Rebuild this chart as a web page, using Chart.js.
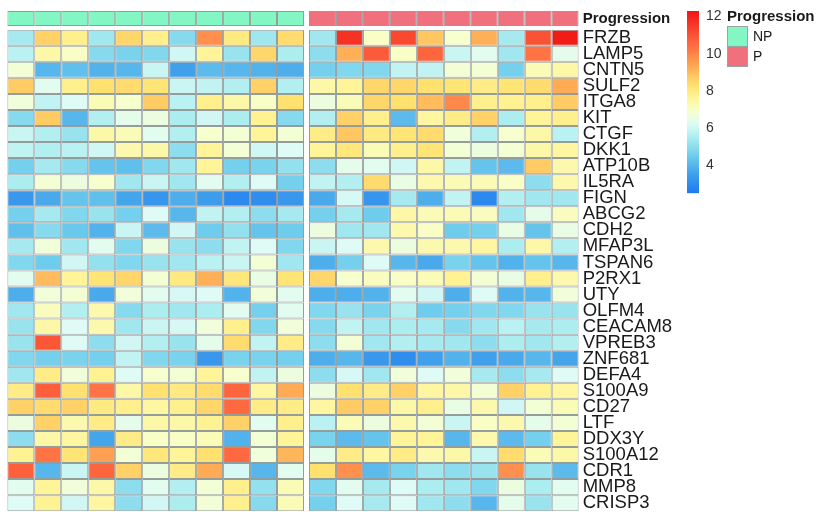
<!DOCTYPE html>
<html>
<head>
<meta charset="utf-8">
<script src="https://cdn.jsdelivr.net/npm/chart.js@4.4.1/dist/chart.umd.min.js"></script>
<style>
  html, body { margin: 0; padding: 0; background: #ffffff; }
  #wrap { position: relative; width: 816px; height: 512px; overflow: hidden; background: #ffffff; }
  #wrap canvas { position: absolute; left: 0; top: 0; }
  .lg { position: absolute; font-family: "Liberation Sans", Arial, sans-serif; color: #1a1a1a; white-space: nowrap; }
  .sw { position: absolute; box-sizing: border-box; border: 1px solid #9aa3a3; }
</style>
</head>
<body>
<div id="wrap">
  <canvas id="heat" width="816" height="512"></canvas>
  <canvas id="anno" width="816" height="512"></canvas>
  <canvas id="scale" width="816" height="512"></canvas>
  <div class="lg" style="left:727px;top:8px;font-weight:bold;font-size:15px;line-height:16px;">Progression</div>
  <div class="sw" id="swNP" style="left:727px;top:26px;width:21px;height:21px;"></div>
  <div class="sw" id="swP" style="left:727px;top:46px;width:21px;height:21px;"></div>
  <div class="lg" id="txNP" style="left:753px;top:27px;font-size:14px;line-height:19px;"></div>
  <div class="lg" id="txP" style="left:753px;top:47px;font-size:14px;line-height:19px;"></div>
</div>
<script>
// Genes, top to bottom
const genes = ['FRZB', 'LAMP5', 'CNTN5', 'SULF2', 'ITGA8', 'KIT', 'CTGF', 'DKK1', 'ATP10B', 'IL5RA',
  'FIGN', 'ABCG2', 'CDH2', 'MFAP3L', 'TSPAN6', 'P2RX1', 'UTY', 'OLFM4', 'CEACAM8', 'VPREB3',
  'ZNF681', 'DEFA4', 'S100A9', 'CD27', 'LTF', 'DDX3Y', 'S100A12', 'CDR1', 'MMP8', 'CRISP3'];

// Progression groups
const groupNames = ['NP', 'P'];
const groupColors = ['#82F7C4', '#F0707E'];

// Expression, non-progressors (one row per gene, one entry per sample)
const npExpr = [
  [5.4, 8.6, 7.8, 5.3, 8.5, 7.8, 4.9, 9.8, 8.0, 5.3, 8.4],
  [5.7, 7.4, 7.0, 4.9, 4.7, 4.8, 6.0, 7.6, 5.2, 8.5, 5.5],
  [6.8, 4.0, 4.2, 3.9, 4.0, 5.9, 3.5, 4.1, 4.0, 3.9, 3.8],
  [8.7, 6.3, 7.8, 8.3, 8.4, 8.2, 5.9, 5.8, 5.6, 8.6, 5.6],
  [6.7, 5.8, 6.2, 7.2, 6.9, 8.7, 5.7, 7.8, 7.4, 7.0, 8.3],
  [4.9, 8.7, 4.0, 5.6, 6.4, 6.6, 5.5, 6.0, 5.5, 7.7, 4.9],
  [5.9, 5.6, 5.2, 7.4, 7.2, 6.3, 5.6, 6.9, 6.8, 7.6, 6.8],
  [5.8, 5.6, 5.7, 6.0, 7.3, 7.4, 5.0, 7.6, 6.8, 6.0, 6.2],
  [4.6, 5.4, 4.9, 4.3, 4.2, 4.8, 5.3, 7.6, 4.6, 4.7, 5.1],
  [5.5, 6.8, 6.6, 6.9, 5.3, 5.9, 5.3, 6.3, 5.6, 6.2, 4.6],
  [3.3, 3.7, 4.3, 4.2, 3.6, 3.2, 3.8, 3.4, 2.9, 3.0, 3.3],
  [4.6, 5.4, 4.8, 5.2, 4.6, 6.2, 4.0, 5.8, 5.6, 5.0, 5.4],
  [4.2, 4.9, 4.4, 3.9, 5.9, 4.1, 6.0, 4.5, 5.1, 4.3, 4.5],
  [5.4, 6.7, 5.3, 6.3, 4.8, 6.6, 5.2, 5.0, 5.8, 6.2, 4.8],
  [4.8, 4.5, 6.0, 5.1, 4.8, 5.2, 5.3, 5.7, 5.9, 6.8, 5.3],
  [6.3, 9.0, 7.6, 8.2, 8.5, 6.8, 8.0, 9.2, 8.1, 6.5, 8.2],
  [3.8, 6.7, 6.8, 3.7, 6.7, 6.3, 6.1, 6.2, 3.9, 6.7, 6.3],
  [5.3, 7.1, 5.6, 7.3, 4.9, 5.5, 5.3, 5.5, 6.3, 4.6, 6.3],
  [5.2, 7.4, 6.2, 7.3, 5.3, 5.9, 6.1, 6.7, 7.8, 4.8, 6.7],
  [5.2, 10.9, 6.2, 5.0, 6.0, 5.6, 5.2, 6.4, 8.4, 5.8, 7.9],
  [4.8, 4.6, 4.7, 4.6, 5.8, 4.8, 4.7, 3.3, 4.7, 4.7, 4.6],
  [5.3, 7.9, 6.7, 7.7, 6.2, 6.9, 6.8, 7.6, 6.9, 5.8, 6.6],
  [7.9, 10.7, 8.3, 10.3, 7.4, 8.3, 8.0, 8.4, 10.6, 7.5, 9.3],
  [8.6, 8.4, 8.6, 8.0, 7.8, 7.5, 7.8, 8.5, 10.5, 7.9, 7.9],
  [6.6, 8.6, 7.3, 7.9, 6.4, 7.4, 7.4, 7.7, 8.6, 6.3, 7.8],
  [5.0, 7.4, 7.5, 3.6, 7.9, 7.0, 7.0, 7.2, 3.9, 6.8, 7.6],
  [7.7, 10.3, 8.2, 9.5, 6.8, 8.1, 7.6, 8.3, 10.5, 6.7, 9.1],
  [10.7, 4.0, 5.9, 10.6, 8.6, 6.6, 7.9, 9.3, 6.1, 4.0, 6.3],
  [6.3, 7.6, 6.7, 7.4, 5.0, 6.3, 5.6, 6.8, 7.8, 5.1, 7.2],
  [6.2, 7.7, 6.0, 7.5, 5.0, 6.0, 5.5, 6.8, 7.8, 4.9, 7.2]
];

// Expression, progressors
const pExpr = [
  [5.3, 11.7, 7.0, 11.2, 8.8, 6.9, 9.2, 5.4, 11.0, 12.2],
  [5.0, 9.2, 10.8, 7.0, 10.6, 5.9, 6.3, 5.3, 10.3, 6.4],
  [4.6, 4.8, 4.8, 5.8, 5.8, 6.8, 6.8, 4.6, 7.2, 7.4],
  [7.4, 7.6, 8.5, 8.5, 8.3, 8.2, 7.9, 8.2, 8.4, 9.3],
  [6.6, 7.2, 8.5, 8.3, 9.0, 9.9, 7.8, 7.7, 7.8, 8.7],
  [5.6, 8.6, 7.8, 4.1, 7.5, 7.9, 8.6, 5.5, 7.6, 7.8],
  [7.9, 8.8, 8.0, 8.2, 8.4, 6.7, 5.6, 6.9, 7.4, 5.7],
  [7.6, 8.1, 7.2, 7.8, 8.2, 6.8, 6.6, 6.8, 7.4, 7.5],
  [5.0, 6.4, 6.3, 6.0, 7.4, 5.8, 4.3, 4.1, 8.7, 7.3],
  [5.8, 5.6, 8.4, 6.5, 7.3, 7.2, 7.2, 7.0, 5.0, 7.3],
  [3.7, 6.1, 3.2, 5.4, 3.8, 5.8, 2.9, 5.6, 5.3, 5.3],
  [4.6, 5.4, 4.5, 7.4, 7.2, 7.2, 7.1, 5.3, 6.4, 7.1],
  [6.6, 5.3, 5.3, 7.3, 7.0, 4.5, 4.6, 6.5, 4.3, 6.5],
  [5.9, 6.2, 7.3, 6.6, 7.3, 7.3, 7.5, 5.5, 7.4, 5.6],
  [3.8, 4.6, 6.2, 4.0, 3.7, 4.7, 4.3, 3.9, 4.3, 4.0],
  [8.5, 6.9, 7.1, 7.0, 7.2, 7.7, 6.8, 6.5, 7.8, 7.3],
  [3.8, 3.8, 3.9, 6.3, 6.0, 3.8, 6.2, 3.9, 4.0, 6.7],
  [4.8, 5.2, 4.7, 5.6, 4.5, 4.6, 4.8, 4.8, 5.2, 5.2],
  [4.9, 5.8, 5.3, 5.5, 5.4, 4.9, 5.3, 5.7, 5.4, 5.5],
  [5.0, 6.8, 5.3, 5.6, 5.4, 5.3, 5.0, 5.5, 5.3, 5.6],
  [3.8, 4.0, 3.3, 3.0, 3.5, 3.9, 3.5, 3.7, 4.0, 3.6],
  [5.0, 6.1, 5.3, 6.7, 6.2, 6.7, 5.4, 5.0, 5.4, 6.2],
  [6.6, 8.3, 7.9, 8.6, 7.5, 7.4, 6.8, 8.6, 7.7, 7.5],
  [7.5, 8.7, 8.6, 7.4, 7.8, 6.5, 7.3, 6.0, 6.8, 7.2],
  [5.7, 7.2, 6.6, 7.3, 6.8, 5.9, 7.0, 7.3, 6.4, 6.8],
  [4.7, 4.1, 4.3, 7.6, 7.6, 4.0, 7.3, 4.1, 4.6, 7.6],
  [6.4, 7.9, 7.5, 7.9, 7.3, 7.4, 5.9, 8.4, 7.2, 7.4],
  [8.3, 9.8, 4.1, 4.7, 5.3, 5.0, 5.2, 9.8, 5.2, 4.1],
  [4.8, 6.3, 5.4, 6.2, 5.5, 5.3, 4.8, 6.6, 5.5, 6.3],
  [4.6, 6.2, 5.4, 6.2, 5.3, 5.0, 4.0, 6.4, 5.2, 6.3]
];

// Colour key
const colorbarTicks = [4, 6, 8, 10, 12];
const colorRange = [2.47, 12.3];

const FONT = '"Liberation Sans", Arial, Helvetica, sans-serif';
const CELL_BORDER = '#949c9c';
const GAP = 0.185;          // white gutter between the two groups, in column units
const AXIS_W = 237.3;       // room for the row labels on the right

// blue -> pale cyan -> pale yellow -> orange -> red ramp
const ramp = [
  [2.5,  [30, 122, 240]],
  [3.5,  [64, 160, 235]],
  [4.5,  [110, 205, 236]],
  [5.5,  [172, 237, 240]],
  [6.2,  [222, 251, 246]],
  [6.9,  [247, 255, 206]],
  [7.6,  [255, 245, 152]],
  [8.3,  [255, 225, 112]],
  [9.2,  [255, 176, 86]],
  [10.4, [255, 110, 66]],
  [12.3, [240, 22, 22]]
];
function exprColor(v) {
  if (v <= ramp[0][0]) return 'rgb(' + ramp[0][1].join(',') + ')';
  for (let k = 1; k < ramp.length; k++) {
    if (v <= ramp[k][0]) {
      const [a, ca] = ramp[k - 1], [b, cb] = ramp[k];
      const t = (v - a) / (b - a);
      const c = ca.map((x, i) => Math.round(x + (cb[i] - x) * t));
      return 'rgb(' + c.join(',') + ')';
    }
  }
  return 'rgb(' + ramp[ramp.length - 1][1].join(',') + ')';
}

// labels sit inside the rows, so the axes need no extra room above or below
function noLabelOverhang(s) { s.paddingTop = 0; s.paddingBottom = 0; }

const nNP = npExpr[0].length;
const nP = pExpr[0].length;

const cellStyle = {
  borderColor: CELL_BORDER,
  borderWidth: 1,
  borderSkipped: false,
  barPercentage: 1,
  categoryPercentage: 1,
  inflateAmount: 0
};

function buildColumns(rowsOf, count, prefix, colorOf) {
  const sets = [];
  for (let j = 0; j < count; j++) {
    sets.push(Object.assign({
      label: prefix + (j + 1),
      data: rowsOf.map(() => 1),
      backgroundColor: rowsOf.map(colorOf(j))
    }, cellStyle));
  }
  return sets;
}
function gutter(len) {
  return { label: 'gutter', data: new Array(len).fill(GAP), backgroundColor: 'rgba(0,0,0,0)',
           borderWidth: 0, barPercentage: 1, categoryPercentage: 1 };
}

const baseOpts = (padding, tickFont) => ({
  indexAxis: 'y',
  responsive: false,
  animation: false,
  devicePixelRatio: 1,
  layout: { padding: padding },
  plugins: { legend: { display: false }, tooltip: { enabled: false } },
  scales: {
    x: { type: 'linear', stacked: true, min: 0, max: nNP + nP + GAP, display: false },
    y: {
      type: 'category', stacked: true, position: 'right', offset: true,
      grid: { display: false, drawTicks: false }, border: { display: false },
      ticks: { autoSkip: false, padding: 4, color: '#1a1a1a', font: tickFont },
      afterFit(s) { s.width = AXIS_W; noLabelOverhang(s); }
    }
  }
});

// Expression heatmap
const heatSets = []
  .concat(buildColumns(genes, nNP, 'NP', j => (g, i) => exprColor(npExpr[i][j])))
  .concat([gutter(genes.length)])
  .concat(buildColumns(genes, nP, 'P', j => (g, i) => exprColor(pExpr[i][j])));

new Chart(document.getElementById('heat'), {
  type: 'bar',
  data: { labels: genes, datasets: heatSets },
  options: baseOpts({ left: 7.3, top: 29.7, right: 0, bottom: 0.8 }, { family: FONT, size: 18.5 })
});

// Progression annotation strip
const annoRow = ['Progression'];
const annoSets = []
  .concat(buildColumns(annoRow, nNP, 'NP', () => () => groupColors[0]))
  .concat([gutter(1)])
  .concat(buildColumns(annoRow, nP, 'P', () => () => groupColors[1]));

new Chart(document.getElementById('anno'), {
  type: 'bar',
  data: { labels: annoRow, datasets: annoSets },
  options: baseOpts({ left: 7.3, top: 11, right: 0, bottom: 486 }, { family: FONT, size: 15, weight: 'bold' })
});

// Colour key
new Chart(document.getElementById('scale'), {
  type: 'bar',
  data: {
    labels: ['key'],
    datasets: [{
      data: [colorRange],
      borderWidth: 0,
      barPercentage: 1,
      categoryPercentage: 1,
      backgroundColor(ctx) {
        const ch = ctx.chart;
        if (!ch.chartArea) return 'rgba(0,0,0,0)';
        const y = ch.scales.y;
        const g = ch.ctx.createLinearGradient(0, y.getPixelForValue(colorRange[0]), 0, y.getPixelForValue(colorRange[1]));
        const n = 48;
        for (let k = 0; k <= n; k++) {
          const v = colorRange[0] + (colorRange[1] - colorRange[0]) * k / n;
          g.addColorStop(k / n, exprColor(v));
        }
        return g;
      }
    }]
  },
  options: {
    responsive: false,
    animation: false,
    devicePixelRatio: 1,
    layout: { padding: { left: 687, top: 11, right: 0, bottom: 512 - 193.3 } },
    plugins: { legend: { display: false }, tooltip: { enabled: false } },
    scales: {
      x: { display: false },
      y: {
        position: 'right', min: colorRange[0], max: colorRange[1],
        grid: { display: false, drawTicks: false }, border: { display: false },
        afterBuildTicks(s) { s.ticks = colorbarTicks.map(v => ({ value: v })); },
        ticks: { padding: 7, color: '#333333', font: { family: FONT, size: 14 } },
        afterFit(s) { s.width = 816 - 699; noLabelOverhang(s); }
      }
    }
  }
});

// Group legend
document.getElementById('swNP').style.background = groupColors[0];
document.getElementById('swP').style.background = groupColors[1];
document.getElementById('txNP').textContent = groupNames[0];
document.getElementById('txP').textContent = groupNames[1];
</script>
</body>
</html>
